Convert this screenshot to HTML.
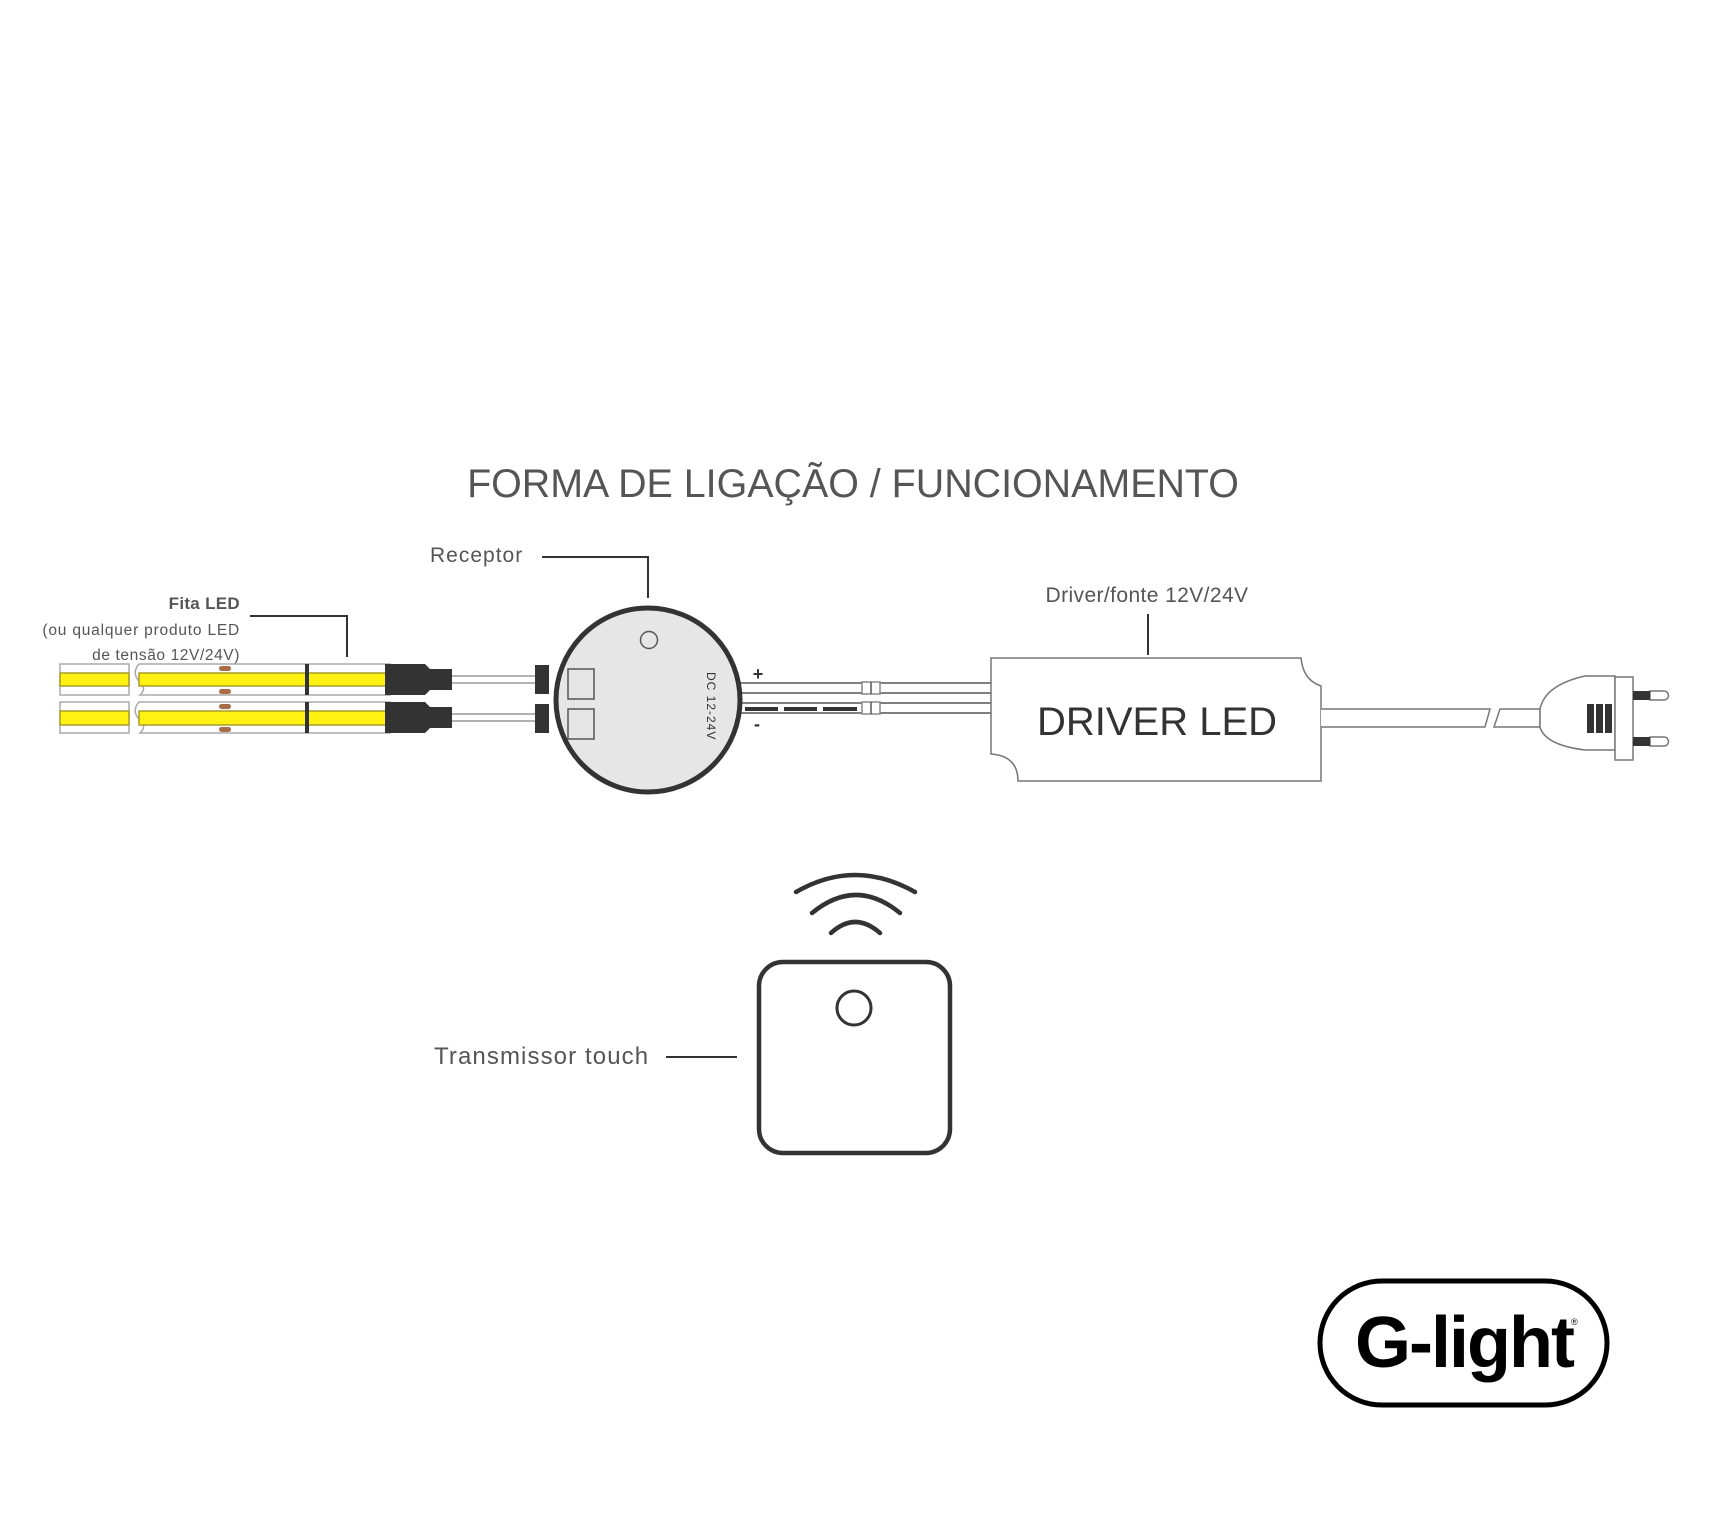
<!DOCTYPE html>
<html><head><meta charset="utf-8"><style>html,body{margin:0;padding:0;background:#fff}svg{display:block}</style></head>
<body>
<svg width="1713" height="1536" viewBox="0 0 1713 1536" xmlns="http://www.w3.org/2000/svg" font-family="Liberation Sans, sans-serif">
<rect width="1713" height="1536" fill="#fff"/>
<text x="853" y="497" font-size="39.4" fill="#555" text-anchor="middle">FORMA DE LIGAÇÃO / FUNCIONAMENTO</text>

<!-- labels -->
<text x="430" y="562" font-size="21" fill="#555" letter-spacing="1">Receptor</text>
<polyline points="542,557 648,557 648,598" fill="none" stroke="#333" stroke-width="2"/>
<text x="240" y="609" font-size="17" fill="#555" font-weight="bold" text-anchor="end" letter-spacing="0.3">Fita LED</text>
<text x="240" y="635" font-size="15.5" fill="#555" text-anchor="end" letter-spacing="0.8">(ou qualquer produto LED</text>
<text x="240" y="660" font-size="15.5" fill="#555" text-anchor="end" letter-spacing="0.6">de tensão 12V/24V)</text>
<polyline points="250,616 347,616 347,657" fill="none" stroke="#333" stroke-width="2"/>
<text x="1147" y="602" font-size="21" fill="#555" text-anchor="middle" letter-spacing="0.4">Driver/fonte 12V/24V</text>
<line x1="1148" y1="614" x2="1148" y2="655" stroke="#333" stroke-width="2"/>

<!-- strips -->
<g stroke="#aaa" stroke-width="1.5">
<rect x="60" y="664" width="69" height="31" fill="#fff"/>
<rect x="60" y="673" width="69" height="13" fill="#fff212" stroke="#a99d2a"/>
<path d="M139,664 H390 V695 H140 Q148,688 138,680 Q132,672 139,664Z" fill="#fff"/>
<path d="M139,673 H388 V686 H139Z" fill="#fff212" stroke="#a99d2a"/>
<rect x="60" y="702" width="69" height="31" fill="#fff"/>
<rect x="60" y="711" width="69" height="14" fill="#fff212" stroke="#a99d2a"/>
<path d="M139,702 H390 V733 H140 Q148,726 138,718 Q132,710 139,702Z" fill="#fff"/>
<path d="M139,711 H388 V725 H139Z" fill="#fff212" stroke="#a99d2a"/>
</g>
<g fill="#a86d47">
<rect x="219" y="666" width="12" height="5" rx="2.5"/><rect x="219" y="689" width="12" height="5" rx="2.5"/>
<rect x="219" y="704" width="12" height="5" rx="2.5"/><rect x="219" y="727" width="12" height="5" rx="2.5"/>
</g>
<g fill="#333">
<rect x="305" y="664" width="4" height="31"/><rect x="305" y="702" width="4" height="31"/>
<path d="M385,664 H425 L430,669 H452 V690 H430 L425,695 H385Z"/>
<path d="M385,702 H425 L430,707 H452 V728 H430 L425,733 H385Z"/>
<rect x="535" y="665" width="14" height="29"/><rect x="535" y="704" width="14" height="29"/>
</g>
<g stroke="#999" stroke-width="1.5">
<line x1="452" y1="676" x2="535" y2="676"/><line x1="452" y1="683" x2="535" y2="683"/>
<line x1="452" y1="714" x2="535" y2="714"/><line x1="452" y1="721" x2="535" y2="721"/>
</g>

<!-- wires to driver -->
<g stroke="#555" stroke-width="1.5" fill="#fff">
<line x1="735" y1="683" x2="991" y2="683"/><line x1="735" y1="693" x2="991" y2="693"/>
<line x1="735" y1="703" x2="991" y2="703"/><line x1="735" y1="713" x2="991" y2="713"/>
<rect x="862" y="682" width="18" height="12" stroke="#888"/><line x1="871" y1="682" x2="871" y2="694"/>
<rect x="862" y="702" width="18" height="12" stroke="#888"/><line x1="871" y1="702" x2="871" y2="714"/>
</g>
<g fill="#333"><rect x="745" y="707" width="33" height="4"/><rect x="784" y="707" width="33" height="4"/><rect x="823" y="707" width="34" height="4"/></g>
<text x="758" y="680" font-size="18" font-weight="bold" fill="#333" text-anchor="middle">+</text>
<text x="757" y="730" font-size="18" font-weight="bold" fill="#333" text-anchor="middle">-</text>

<!-- receptor -->
<circle cx="648" cy="700" r="92" fill="#e6e6e6" stroke="#333" stroke-width="5"/>
<circle cx="649" cy="640" r="8.5" fill="none" stroke="#555" stroke-width="1.5"/>
<rect x="568" y="669" width="26" height="30" fill="none" stroke="#555" stroke-width="1.5"/>
<rect x="568" y="709" width="26" height="30" fill="none" stroke="#555" stroke-width="1.5"/>
<text transform="translate(707,672) rotate(90)" font-size="12" fill="#333" letter-spacing="1">DC 12-24V</text>

<!-- driver -->
<path d="M991,658 H1301 Q1303,680 1321,686 V781 H1018 Q1018,756 991,754 Z" fill="#fff" stroke="#777" stroke-width="1.5"/>
<text x="1157" y="735" font-size="40" fill="#333" text-anchor="middle">DRIVER LED</text>

<!-- cable & plug -->
<g stroke="#777" stroke-width="1.5" fill="#fff">
<path d="M1321,709 H1490 L1485,727 H1321"/>
<path d="M1500,709 H1540 V727 H1494 Z"/>
<path d="M1540,709 Q1545,685 1585,676 H1615 V750 H1585 Q1545,745 1540,727 Z"/>
<rect x="1615" y="677" width="18" height="83"/>
<path d="M1650,691 H1664 A4.5,4.5 0 0 1 1664,700 H1650Z"/>
<path d="M1650,737 H1664 A4.5,4.5 0 0 1 1664,746 H1650Z"/>
</g>
<g fill="#333">
<rect x="1633" y="691" width="17" height="9"/><rect x="1633" y="737" width="17" height="9"/>
<rect x="1587" y="704" width="7" height="29"/><rect x="1596" y="704" width="7" height="29"/><rect x="1605" y="704" width="7" height="29"/>
</g>

<!-- transmitter -->
<g fill="none" stroke="#333" stroke-width="4.5" stroke-linecap="round">
<path d="M796,892 Q855,858 915,892"/>
<path d="M812,913 Q856,877 900,913"/>
<path d="M831,933 Q855,911 880,933"/>
<rect x="759" y="962" width="191" height="191" rx="24"/>
<circle cx="854" cy="1008" r="17" stroke-width="3"/>
</g>
<text x="434" y="1064" font-size="24" fill="#555" letter-spacing="1.1">Transmissor touch</text>
<line x1="666" y1="1057" x2="737" y2="1057" stroke="#333" stroke-width="2"/>

<!-- logo -->
<rect x="1320" y="1281" width="287" height="124" rx="62" fill="#fff" stroke="#000" stroke-width="5"/>
<text x="1464" y="1367" font-size="72" font-weight="bold" fill="#000" text-anchor="middle" letter-spacing="-2">G-light</text>
<text x="1571" y="1325" font-size="9" fill="#000">®</text>
</svg>
</body></html>
